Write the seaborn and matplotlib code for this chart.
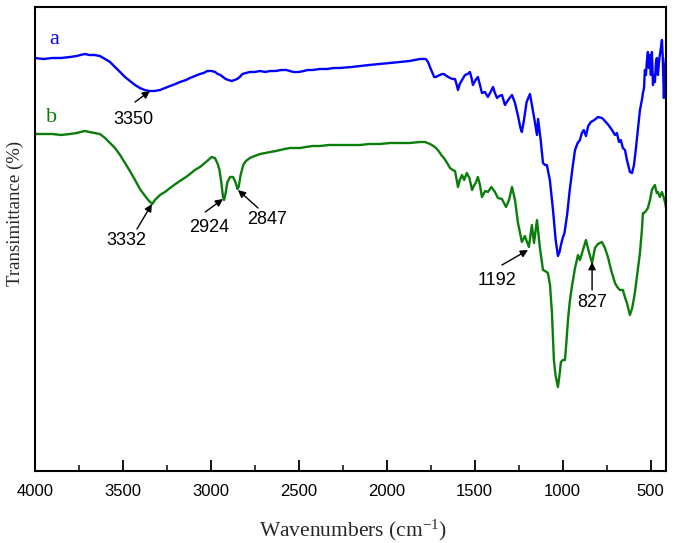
import numpy as np
import pandas as pd
import matplotlib
matplotlib.use("Agg")
import matplotlib.pyplot as plt
import seaborn as sns

# ---------------- data ----------------
wn_a = [4000, 3950, 3900, 3850, 3800, 3760, 3740, 3714, 3690, 3660, 3630, 3600, 3572, 3544, 3515,
        3487, 3459, 3430, 3402, 3375, 3350, 3320, 3288, 3260, 3231, 3200, 3175, 3140, 3118, 3090,
        3061, 3040, 3020, 2995, 2975, 2960, 2945, 2930, 2915, 2900, 2880, 2865, 2850, 2835, 2820,
        2800, 2777, 2750, 2720, 2690, 2663, 2630, 2600, 2570, 2550, 2530, 2500, 2470, 2450, 2420,
        2380, 2340, 2300, 2265, 2200, 2150, 2100, 2040, 1980, 1924, 1870, 1811, 1790, 1778, 1765,
        1752, 1740, 1730, 1720, 1710, 1697, 1685, 1675, 1660, 1640, 1625, 1612, 1602, 1595, 1585,
        1572, 1555, 1540, 1527, 1518, 1510, 1495, 1482, 1470, 1459, 1442, 1425, 1410, 1396, 1385,
        1373, 1360, 1345, 1328, 1310, 1288, 1271, 1255, 1240, 1232, 1220, 1205, 1186, 1175, 1163,
        1146, 1140, 1125, 1112, 1100, 1090, 1073, 1055, 1040, 1027, 1018, 1010, 1000, 990, 975,
        960, 942, 930, 915, 902, 891, 880, 868, 855, 840, 820, 800, 777, 760, 740,
        720, 703, 692, 680, 670, 658, 646, 635, 618, 606, 595, 585, 570, 561, 550,
        544, 538, 533, 527, 521, 516, 510, 504, 499, 493, 487, 482, 476, 470, 465,
        459, 453, 448, 442, 436, 431, 425, 419, 414, 408]
t_a = [442, 441, 442, 442, 443, 444, 445, 446, 445, 445, 444, 441, 438, 433, 428,
       423, 419, 415, 412, 410, 409, 409, 410, 412, 414, 416, 418, 420, 422, 424,
       426, 427, 429, 429, 428, 426, 425, 423, 421, 420, 419, 420, 421, 423, 426,
       427, 428, 428, 429, 428, 429, 429, 430, 430, 429, 428, 428, 429, 430, 430,
       431, 431, 432, 432, 433, 434, 435, 436, 437, 438, 439, 441, 441, 441, 438,
       432, 427, 423, 423, 424, 425, 426, 426, 424, 422, 421, 421, 415, 410, 416,
       420, 425, 426, 428, 422, 415, 420, 423, 415, 407, 408, 403, 408, 413, 407,
       402, 404, 405, 395, 400, 405, 397, 385, 372, 368, 380, 398, 406, 395, 383,
       365, 381, 360, 337, 335, 335, 320, 290, 260, 244, 248, 255, 262, 267, 285,
       310, 335, 350, 357, 360, 367, 370, 364, 374, 378, 380, 383, 382, 379, 375,
       370, 365, 367, 358, 360, 352, 350, 340, 328, 327, 335, 350, 375, 390, 400,
       407, 412, 430, 425, 440, 448, 432, 445, 425, 448, 415, 425, 418, 438, 442,
       425, 438, 445, 452, 460, 440, 402, 430, 442, 440]

wn_b = [4000, 3950, 3900, 3850, 3800, 3760, 3740, 3714, 3690, 3660, 3630, 3600, 3572, 3544, 3515,
        3487, 3459, 3430, 3402, 3373, 3350, 3332, 3317, 3288, 3260, 3231, 3200, 3175, 3140, 3118,
        3090, 3061, 3040, 3020, 2995, 2976, 2960, 2950, 2940, 2930, 2924, 2915, 2905, 2890, 2873,
        2860, 2847, 2840, 2830, 2815, 2800, 2777, 2750, 2720, 2690, 2663, 2630, 2606, 2580, 2550,
        2520, 2493, 2460, 2420, 2379, 2330, 2265, 2200, 2150, 2100, 2040, 1980, 1924, 1870, 1811,
        1782, 1754, 1735, 1720, 1705, 1690, 1675, 1660, 1640, 1625, 1612, 1602, 1595, 1585, 1572,
        1560, 1545, 1530, 1515, 1505, 1495, 1482, 1470, 1459, 1450, 1440, 1425, 1405, 1385, 1368,
        1345, 1322, 1305, 1288, 1271, 1254, 1232, 1215, 1192, 1175, 1163, 1146, 1130, 1112, 1100,
        1084, 1072, 1061, 1050, 1040, 1027, 1018, 1010, 1000, 987, 978, 970, 960, 948, 930,
        913, 902, 885, 868, 851, 833, 817, 800, 777, 760, 743, 725, 703, 690, 675,
        658, 645, 635, 618, 605, 590, 575, 561, 550, 544, 538, 527, 516, 504, 493,
        484, 476, 470, 465, 459, 448, 436, 425, 419, 408]
t_b = [366, 366, 366, 365, 366, 367, 368, 369, 368, 367, 366, 362, 357, 352, 345,
       337, 329, 320, 311, 304, 299, 296, 300, 305, 308, 312, 316, 319, 323, 326,
       330, 333, 336, 339, 343, 342, 336, 330, 318, 303, 300, 307, 318, 323, 323,
       318, 311, 314, 325, 335, 339, 342, 344, 346, 347, 348, 349, 350, 351, 352,
       352, 352, 353, 354, 354, 355, 355, 355, 355, 356, 356, 357, 357, 357, 358,
       358, 356, 354, 352, 349, 345, 342, 338, 332, 330, 329, 320, 313, 320, 325,
       320, 327, 322, 310, 314, 317, 323, 315, 303, 306, 309, 308, 313, 308, 302,
       301, 293, 300, 313, 300, 277, 258, 264, 253, 275, 257, 280, 253, 230, 229,
       227, 215, 187, 140, 124, 113, 125, 138, 140, 140, 160, 180, 198, 213, 232,
       245, 240, 250, 260, 248, 237, 252, 256, 258, 252, 243, 230, 217, 213, 210,
       210, 202, 197, 185, 192, 207, 228, 247, 270, 287, 287, 289, 292, 300, 310,
       313, 315, 310, 307, 308, 303, 308, 302, 298, 288]

curve_names = ["a", "b"]
curve_colors = ["#0000ff", "#0a7d0a"]

# peak annotations: label, arrow head (wavenumber, value)
peak_labels = ["3350", "3332", "2924", "2847", "1192", "827"]
peak_wn = [3345, 3334, 2930, 2845, 1197, 833]
peak_t = [409, 296, 301, 310, 250, 238]

# ---------------- figure ----------------
sns.set_theme(style="ticks")
plt.rcParams["font.family"] = ["Liberation Sans", "DejaVu Sans"]
plt.rcParams["mathtext.default"] = "regular"

fig = plt.figure(figsize=(6.75, 5.43), dpi=100)
ax = fig.add_axes([34.7 / 675, 72 / 543, (666 - 34.7) / 675, (471 - 7) / 543])

df_a = pd.DataFrame({"wn": wn_a, "t": t_a})
df_b = pd.DataFrame({"wn": wn_b, "t": t_b})
sns.lineplot(data=df_a, x="wn", y="t", sort=False, color=curve_colors[0], linewidth=1.7, ax=ax)
sns.lineplot(data=df_b, x="wn", y="t", sort=False, color=curve_colors[1], linewidth=1.7, ax=ax)

ax.set_xlim(4000, 413)
ax.set_ylim(29, 493)
ax.set_xticks([4000, 3500, 3000, 2500, 2000, 1500, 1000, 500])
ax.set_xticks(np.arange(3750, 400, -500), minor=True)
ax.set_yticks([])
ax.tick_params(axis="x", which="major", direction="in", length=8, width=1.3,
               labelsize=12, pad=9, colors="black", bottom=True, top=False)
ax.tick_params(axis="x", which="minor", direction="in", length=4, width=1.3,
               bottom=True, top=False)
for lab in ax.get_xticklabels():
    lab.set_fontfamily("Liberation Sans")
for sp in ax.spines.values():
    sp.set_visible(True)
    sp.set_linewidth(1.5)
    sp.set_color("black")
ax.set_xlabel("")
ax.set_ylabel("")

# curve letters
ax.text(3890, 456, curve_names[0], color=curve_colors[0], fontsize=16,
        fontfamily="Liberation Serif", ha="center", va="baseline")
ax.text(3907, 378, curve_names[1], color=curve_colors[1], fontsize=16,
        fontfamily="Liberation Serif", ha="center", va="baseline")

# annotation layout (text position and arrow tail)
text_pos = [(3438, 376), (3482, 255), (3009, 268), (2680, 276), (1373, 215), (833, 193)]
tail_pos = [(3430, 398), (3419, 271), (3031, 288), (2731, 292), (1345, 235), (833, 210)]
for lab, hx, hy, (tx, ty), (ax_, ay_) in zip(peak_labels, peak_wn, peak_t, text_pos, tail_pos):
    ax.annotate("", xy=(hx, hy), xytext=(ax_, ay_),
                arrowprops=dict(arrowstyle="-|>", color="black", lw=1.0,
                                mutation_scale=11, shrinkA=0, shrinkB=0))
    ax.text(tx, ty, lab, fontsize=13, ha="center", va="baseline", color="black",
            fontfamily="Liberation Sans")

fig.text(353 / 675, 1 - 536 / 543, "Wavenumbers (cm$^{-1}$)", fontsize=15.5,
         fontfamily="Liberation Serif", ha="center", va="baseline")
fig.text(15 / 675, 1 - 213 / 543, "Transimittance (%)", fontsize=13.5, rotation=90,
         fontfamily="Liberation Serif", ha="center", va="center")

fig.savefig("out.png", dpi=100, facecolor="white")
